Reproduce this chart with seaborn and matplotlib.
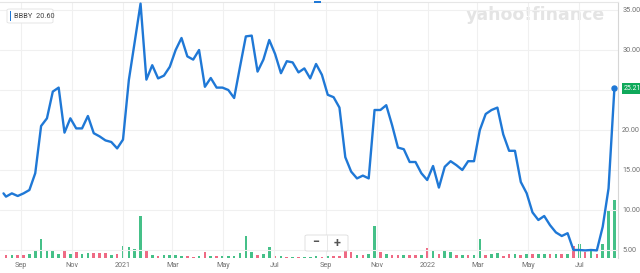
import numpy as np
import pandas as pd
import matplotlib
matplotlib.use("Agg")
import matplotlib.pyplot as plt
import matplotlib.dates as mdates
from matplotlib.patches import FancyBboxPatch, Rectangle
from matplotlib.lines import Line2D
import seaborn as sns

# ---------------- data ----------------
ticker = "BBBY"
legend_value = "20.60"
last_label = "25.21"

first_date = "2020-08-11"
week_start = "2020-08-14"
n_weeks = 105

close_first = [12.08]
close_weekly = [
    11.67, 12.08, 11.75, 12.08, 12.5, 14.6, 20.5, 21.46, 24.8, 25.3,
    19.67, 21.46, 20.2, 20.2, 21.75, 19.6, 19.2, 18.7, 18.5, 17.7,
    18.8, 26.25, 31.0, 35.8, 26.3, 28.1, 26.45, 26.8, 27.9, 30.0,
    31.5, 29.2, 28.8, 30.0, 25.4, 26.5, 25.3, 25.3, 25.0, 24.0,
    27.9, 31.7, 31.8, 27.3, 28.8, 31.25, 29.5, 27.1, 28.6, 28.45,
    27.2, 27.7, 26.45, 28.25, 26.9, 24.4, 24.1, 22.8, 16.6, 14.8,
    13.95, 14.3, 13.95, 22.5, 22.5, 23.1, 20.6, 17.8, 17.6, 16.0,
    16.0, 14.6, 13.75, 15.5, 12.8, 15.4, 16.1, 15.6, 15.0, 16.1,
    16.1, 20.0, 22.0, 22.5, 22.8, 19.45, 17.4, 17.4, 13.5, 12.1,
    9.7, 8.75, 9.25, 8.1, 7.2, 6.75, 7.1, 5.0, 5.0, 4.95,
    5.0, 4.95, 7.9, 12.7, 25.21,
]

volume = [
    3.5, 3.5, 3.5, 3.5, 4, 7.5, 19, 8.3, 8.3, 4.3,
    6.7, 3.7, 6, 4.3, 4.7, 5, 5, 5, 3.5, 3.8,
    12.5, 11.5, 9.3, 42.5, 7.7, 3.3, 1.7, 3.3, 2.7, 2.7,
    2.3, 1.7, 1, 1.7, 6, 2.3, 1.7, 1.7, 1.7, 2.3,
    5, 22.3, 6, 3.3, 4.3, 10.7, 1.7, 1.7, 1.3, 1,
    1, 1, 1, 1.7, 1, 1.7, 1.7, 1.7, 8.3, 6,
    3.3, 3.3, 4, 31.7, 5.7, 4.3, 3.3, 3.3, 3.3, 3,
    3, 3.3, 10, 6.7, 4, 6.7, 6, 2.7, 3.3, 3.3,
    3.3, 19, 3.3, 4.3, 5, 2.3, 4.3, 4, 3.3, 4,
    4.3, 4.3, 4.3, 4.3, 4.3, 4.3, 4.3, 11.7, 14.3, 5.7,
    6.7, 4.3, 14, 48, 58,
]

direction = list(
    "RGRRGGGGGG" "RGRGGRRRGR" "GGGGRGRGGG" "GRRGRGRGGG"
    "GGGRGGRGRG" "RGGGRGRRRR" "GRGGRGRRGR" "RGRGRGGRGR"
    "GGRGGRRGRG" "RGGRGRGRGR" "GRGGG"
)
direction = ["up" if d == "G" else "down" for d in direction]

y_ticks = [5, 10, 15, 20, 25, 30, 35]
x_tick_months = [1, 3, 5, 7, 9, 11]

assert len(close_weekly) == n_weeks and len(volume) == n_weeks and len(direction) == n_weeks

# ---------------- build frames ----------------
weekly_dates = pd.date_range(week_start, periods=n_weeks, freq="7D")
all_dates = pd.DatetimeIndex([pd.Timestamp(first_date)]).append(weekly_dates)
price_df = pd.DataFrame({"x": mdates.date2num(all_dates),
                         "close": close_first + close_weekly})
vol_df = pd.DataFrame({"x": mdates.date2num(weekly_dates),
                       "volume": volume, "dir": direction})

# ---------------- style ----------------
LINE = "#1f78d6"
GREEN = "#45c088"
RED = "#ef6a84"
GRID = "#f0f0f0"
TXT = "#6f6f6f"

sns.set_style("white")
plt.rcParams["font.family"] = ["Roboto", "DejaVu Sans"]

W, H = 640, 273
fig = plt.figure(figsize=(W / 100, H / 100), dpi=100)
fig.patch.set_facecolor("white")

ax_left, ax_right, ax_top, ax_bot = 0, 618, 2, 258
pos = [ax_left / W, 1 - ax_bot / H, (ax_right - ax_left) / W, (ax_bot - ax_top) / H]
ax = fig.add_axes(pos)
ax2 = ax.twinx()

# volume bars
sns.barplot(data=vol_df, x="x", y="volume", hue="dir",
            palette={"up": GREEN, "down": RED}, native_scale=True,
            dodge=False, width=0.46, saturation=1, legend=False,
            linewidth=0, ax=ax2)
ax2.set_ylim(0, ax_bot - ax_top)
ax2.set_yticks([])
ax2.set_ylabel("")
ax2.set_xlabel("")
for s in ax2.spines.values():
    s.set_visible(False)

# price line
sns.lineplot(data=price_df, x="x", y="close", color=LINE, lw=1.7, ax=ax,
             zorder=5)
ax.plot(price_df["x"].iloc[-1], price_df["close"].iloc[-1], "o",
        color=LINE, ms=3.6, zorder=6, clip_on=False)

ax.set_zorder(ax2.get_zorder() + 1)
ax.patch.set_visible(False)

# limits
d0 = mdates.date2num(pd.Timestamp(week_start))
px_per_day = 5.85 / 7
ax.set_xlim(d0 - 6 / px_per_day, d0 + (ax_right - 6) / px_per_day)
ax.set_ylim(35 - (ax_bot - 10) / 8, 35 + (10 - ax_top) / 8)

# axes / ticks
ax.set_xlabel("")
ax.set_ylabel("")
ax.yaxis.tick_right()
ax.set_yticks(y_ticks)
ax.set_yticklabels([f"{v:.2f}" if v != 25 else "" for v in y_ticks])
ax.tick_params(axis="y", length=0, pad=3, labelsize=5.2, labelcolor=TXT)

ax.xaxis.set_major_locator(mdates.MonthLocator(bymonth=x_tick_months))
def fmt(x, pos=None):
    d = mdates.num2date(x)
    return str(d.year) if d.month == 1 else d.strftime("%b")
ax.xaxis.set_major_formatter(plt.FuncFormatter(fmt))
ax.tick_params(axis="x", length=0, pad=3, labelsize=5.2, labelcolor=TXT)

ax.grid(True, color=GRID, lw=0.8)
ax.set_axisbelow(True)
for k in ["left", "bottom"]:
    ax.spines[k].set_visible(False)
ax.spines["top"].set_color("#e6e6e6")
ax.spines["top"].set_linewidth(0.8)
ax.spines["right"].set_color("#d6d6d6")
ax.spines["right"].set_linewidth(0.8)

# last value tag
ax.annotate(last_label, xy=(1.0, close_weekly[-1]),
            xycoords=ax.get_yaxis_transform(),
            xytext=(4, 0), textcoords="offset points",
            ha="left", va="center", fontsize=5, color="white", zorder=10,
            bbox=dict(boxstyle="square,pad=0.25", fc="#10a95b", ec="none"),
            annotation_clip=False)

# watermark
fig.text(466 / W, 1 - 15 / H, "yahoo!finance", fontsize=12.5,
         fontweight="heavy", color="#e4e4e4", ha="left", va="center",
         family=["DejaVu Sans"], zorder=0)

# legend box
fig.add_artist(FancyBboxPatch((7 / W, 1 - 23 / H), 46 / W, 14 / H,
                              boxstyle="round,pad=0,rounding_size=0.004",
                              fc="white", ec="#e2e2e2", lw=0.6,
                              transform=fig.transFigure, zorder=20))
fig.add_artist(Rectangle((9.5 / W, 1 - 21.5 / H), 1.8 / W, 10.5 / H,
                         fc=LINE, ec="none", transform=fig.transFigure,
                         zorder=21))
fig.text(14 / W, 1 - 16 / H, f"{ticker}  {legend_value}", fontsize=5.3,
         color="#444444", ha="left", va="center", zorder=22)

# zoom control
fig.add_artist(FancyBboxPatch((305 / W, 1 - 251 / H), 43 / W, 16 / H,
                              boxstyle="round,pad=0,rounding_size=0.004",
                              fc="white", ec="#dcdcdc", lw=0.6,
                              transform=fig.transFigure, zorder=20))
fig.add_artist(Line2D([327 / W, 327 / W], [1 - 251 / H, 1 - 235 / H],
                      color="#e4e4e4", lw=0.6, transform=fig.transFigure,
                      zorder=21))
fig.text(316 / W, 1 - 243 / H, "−", fontsize=9, color="#555555",
         ha="center", va="center", fontweight="bold", zorder=22)
fig.text(337 / W, 1 - 243 / H, "+", fontsize=9, color="#555555",
         ha="center", va="center", fontweight="bold", zorder=22)

# small event marker at top
fig.add_artist(Rectangle((314 / W, 1 - 3 / H), 7 / W, 2 / H, fc=LINE,
                         ec="none", transform=fig.transFigure, zorder=20))

fig.savefig("out.png", dpi=100, facecolor="white")
